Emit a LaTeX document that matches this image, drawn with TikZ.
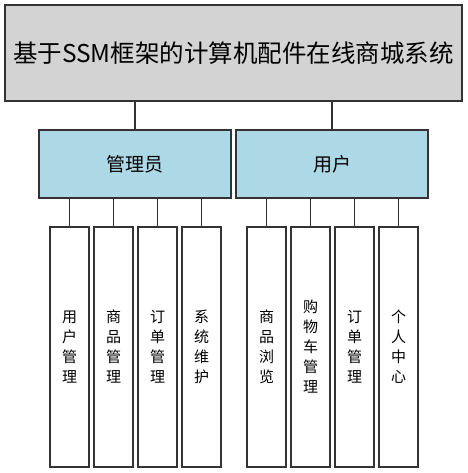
\documentclass[tikz,border=0pt]{standalone}
\usepackage{fontspec}
\newfontfamily\cjk{Noto Sans CJK SC}
\definecolor{topgray}{HTML}{D3D3D3}
\definecolor{midblue}{HTML}{ADD8E6}
\definecolor{edge}{HTML}{333333}
\tikzset{
  box/.style={draw=edge, line width=1.3pt, inner sep=0pt, font=\cjk},
  topbox/.style={box, fill=topgray, minimum width=457pt, minimum height=96pt, font=\cjk\light\fontsize{24.5}{27}\selectfont},
  midbox/.style={box, fill=midblue, minimum width=192pt, minimum height=68pt, font=\cjk\fontsize{19}{22}\selectfont},
  leafbox/.style={box, fill=white, minimum width=39pt, minimum height=240pt, align=center, font=\cjk\fontsize{15}{20}\selectfont},
  link/.style={draw=edge, line width=1.3pt}
}
\providecommand\light{}
\begin{document}
\begin{tikzpicture}[x=1pt,y=-1pt]
\useasboundingbox (0,0) rectangle (467,473);
\node[topbox] (root) at (233.5,53) {基于SSM框架的计算机配件在线商城系统};
\node[midbox] (admin) at (135,164) {管理员};
\node[midbox] (user) at (332,164) {用户};
\node[leafbox] (a1) at (69.5,347) {用\\户\\管\\理};
\node[leafbox] (a2) at (113.5,347) {商\\品\\管\\理};
\node[leafbox] (a3) at (157.5,347) {订\\单\\管\\理};
\node[leafbox] (a4) at (201.5,347) {系\\统\\维\\护};
\node[leafbox] (u1) at (266.5,347) {商\\品\\浏\\览};
\node[leafbox] (u2) at (310.5,347) {购\\物\\车\\管\\理};
\node[leafbox] (u3) at (354.5,347) {订\\单\\管\\理};
\node[leafbox] (u4) at (398.5,347) {个\\人\\中\\心};
\draw[link] (root.south -| admin.north) -- (admin.north);
\draw[link] (root.south -| user.north) -- (user.north);
\foreach \n in {a1,a2,a3,a4}{\draw[link] (admin.south -| \n.north) -- (\n.north);}
\foreach \n in {u1,u2,u3,u4}{\draw[link] (user.south -| \n.north) -- (\n.north);}
\end{tikzpicture}
\end{document}
